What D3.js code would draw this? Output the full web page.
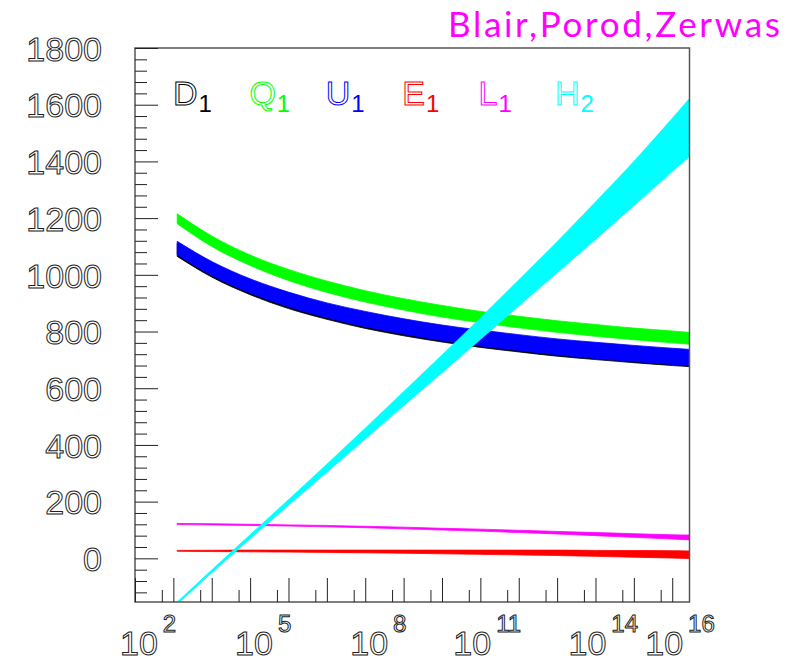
<!DOCTYPE html>
<html>
<head>
<meta charset="utf-8">
<script src="https://cdn.jsdelivr.net/npm/d3@7"></script>
<style>
body { margin: 0; background: #fff; }
.hollow { fill: #fff; stroke: #222; stroke-width: 1; font-family: "Liberation Sans", Arial, sans-serif; }
.axis path { display: none; }
.axis line { stroke: #222; stroke-width: 1; }
</style>
</head>
<body>
<svg id="chart" width="800" height="661"></svg>
<script>
// log10 of the scale Q, shared by every band
const logQ = [3.1, 4, 5, 6, 7, 8, 9, 10, 11, 12, 13, 14, 15, 16, 16.45];

const d1Upper = [1110, 1039, 978, 931, 893, 863, 837, 815, 797, 781, 766, 754, 743, 733, 729];
const d1Lower = [1065, 992, 930, 881, 843, 811, 785, 763, 744, 728, 713, 701, 690, 680, 676];
const q1Upper = [1215, 1137, 1070, 1019, 978, 944, 916, 892, 871, 854, 838, 825, 812, 802, 797];
const q1Lower = [1180, 1100, 1033, 980, 938, 904, 876, 851, 831, 813, 797, 783, 771, 760, 755];
const u1Upper = [1118, 1047, 986, 939, 901, 871, 845, 823, 805, 789, 774, 762, 751, 741, 737];
const u1Lower = [1071, 998, 936, 887, 849, 817, 791, 768, 749, 733, 718, 705, 694, 684, 680];
const e1Upper = [28, 28.5, 29, 29, 29, 29, 29, 29, 29, 29, 29, 28, 27.5, 27, 26];
const e1Lower = [25, 24, 23, 22, 21, 19.5, 18, 16, 14, 12, 10, 7, 4, 1, -1];
const l1Upper = [123, 122, 120, 118, 116, 113, 110, 106, 103, 99, 95, 91, 87, 83, 82];
const l1Lower = [119, 118, 116, 114, 111, 108, 104, 100, 96, 91, 86, 80, 74, 68, 65];
const h2Upper = [-154, -41, 83, 207, 332, 459, 588, 717, 848, 982, 1117, 1257, 1400, 1552, 1622];
const h2Lower = [-162, -51, 69, 187, 304, 421, 538, 655, 772, 890, 1007, 1125, 1244, 1364, 1418];

const legendNames = ["D", "Q", "U", "E", "L", "H"];
const legendSubs = ["1", "1", "1", "1", "1", "2"];
const bandColors = ["#000000", "#00ff00", "#0000ff", "#ff0000", "#ff00ff", "#00ffff"];

const yLabels = [0, 200, 400, 600, 800, 1000, 1200, 1400, 1600, 1800];
const xLabelExps = [2, 5, 8, 11, 14, 16];

class chart {

    constructor (svgId) {
        this.svg = d3.select(svgId);
        this.x = d3.scaleLog()
            .domain([1e2, Math.pow(10, 16.45)])
            .range([135, 689.5]);
        this.y = d3.scaleLinear()
            .domain([-154, 1800])
            .range([602, 48]);

        this.bands = [
            {upper: d1Upper, lower: d1Lower},
            {upper: q1Upper, lower: q1Lower},
            {upper: u1Upper, lower: u1Lower},
            {upper: e1Upper, lower: e1Lower},
            {upper: l1Upper, lower: l1Lower},
            {upper: h2Upper, lower: h2Lower}
        ];

        this.drawBands();
        this.drawAxes();
        this.drawLegend();
    }

    drawBands () {
        let that = this;

        this.svg.append("clipPath").attr("id", "frame-clip")
            .append("rect")
            .attr("x", 135).attr("y", 48)
            .attr("width", 554.5).attr("height", 554);

        let area = d3.area()
            .x(d => that.x(Math.pow(10, d.l)))
            .y0(d => that.y(d.lo))
            .y1(d => that.y(d.hi))
            .curve(d3.curveMonotoneX);

        let g = this.svg.append("g").attr("clip-path", "url(#frame-clip)");

        this.bands.forEach(function (b, i) {
            let pts = logQ.map((l, j) => ({l: l, hi: b.upper[j], lo: b.lower[j]}));
            g.append("path")
                .datum(pts)
                .attr("d", area)
                .attr("fill", bandColors[i])
                .attr("stroke", bandColors[i])
                .attr("stroke-width", 0.8);
        });
    }

    drawAxes () {
        let y = this.y;
        let x = this.x;

        // frame
        this.svg.append("rect")
            .attr("x", 135).attr("y", 48)
            .attr("width", 554.5).attr("height", 554)
            .attr("fill", "none")
            .attr("stroke", "#555")
            .attr("stroke-width", 1.5);

        let yMinor = d3.range(-120, 1800, 40).filter(v => v % 200 !== 0);

        this.svg.append("g").attr("class", "axis")
            .attr("transform", "translate(135,0)")
            .call(d3.axisRight(y).tickValues(yLabels).tickSize(23).tickFormat(""));
        this.svg.append("g").attr("class", "axis")
            .attr("transform", "translate(135,0)")
            .call(d3.axisRight(y).tickValues(yMinor).tickSize(12).tickFormat(""));

        let yl = this.svg.append("g").attr("class", "axis")
            .attr("transform", "translate(135,0)")
            .call(d3.axisLeft(y).tickValues(yLabels).tickSize(0).tickPadding(33)
                .tickFormat(d3.format("d")));
        yl.selectAll("text")
            .attr("class", "hollow")
            .attr("font-size", 34)
            .attr("dy", "0.36em");

        let xMajor = d3.range(2, 17).map(n => Math.pow(10, n));
        let xMinor = d3.range(2, 16).map(n => 5 * Math.pow(10, n));

        this.svg.append("g").attr("class", "axis")
            .attr("transform", "translate(0,602)")
            .call(d3.axisTop(x).tickValues(xMajor).tickSize(24).tickFormat(""));
        this.svg.append("g").attr("class", "axis")
            .attr("transform", "translate(0,602)")
            .call(d3.axisTop(x).tickValues(xMinor).tickSize(12).tickFormat(""));

        let labels = this.svg.append("g").selectAll("text")
            .data(xLabelExps)
            .enter()
            .append("text")
            .attr("class", "hollow")
            .attr("x", d => x(Math.pow(10, d)) - 15 - 12 * (String(d).length - 1))
            .attr("y", 655)
            .attr("font-size", 34);
        labels.append("tspan").text("10");
        labels.append("tspan")
            .attr("dx", 5)
            .attr("dy", -23)
            .attr("font-size", 24)
            .text(d => d);
    }

    drawLegend () {
        let g = this.svg.append("g");

        legendNames.forEach(function (name, i) {
            let t = g.append("text")
                .attr("x", 173 + i * 76.4)
                .attr("y", 105)
                .attr("font-family", "Liberation Sans, Arial, sans-serif")
                .attr("font-size", 34);
            t.append("tspan")
                .attr("fill", "#fff")
                .attr("stroke", bandColors[i])
                .attr("stroke-width", 1)
                .text(name);
            t.append("tspan")
                .attr("dx", 1)
                .attr("dy", 7)
                .attr("font-size", 24)
                .attr("fill", bandColors[i])
                .text(legendSubs[i]);
        });

        this.svg.append("text")
            .attr("x", 448)
            .attr("y", 37)
            .attr("textLength", 332)
            .attr("lengthAdjust", "spacing")
            .attr("font-family", "Lato, sans-serif")
            .attr("font-size", 35)
            .attr("fill", "#ff00ff")
            .text("Blair,Porod,Zerwas");
    }

}

new chart("#chart");
</script>
</body>
</html>
